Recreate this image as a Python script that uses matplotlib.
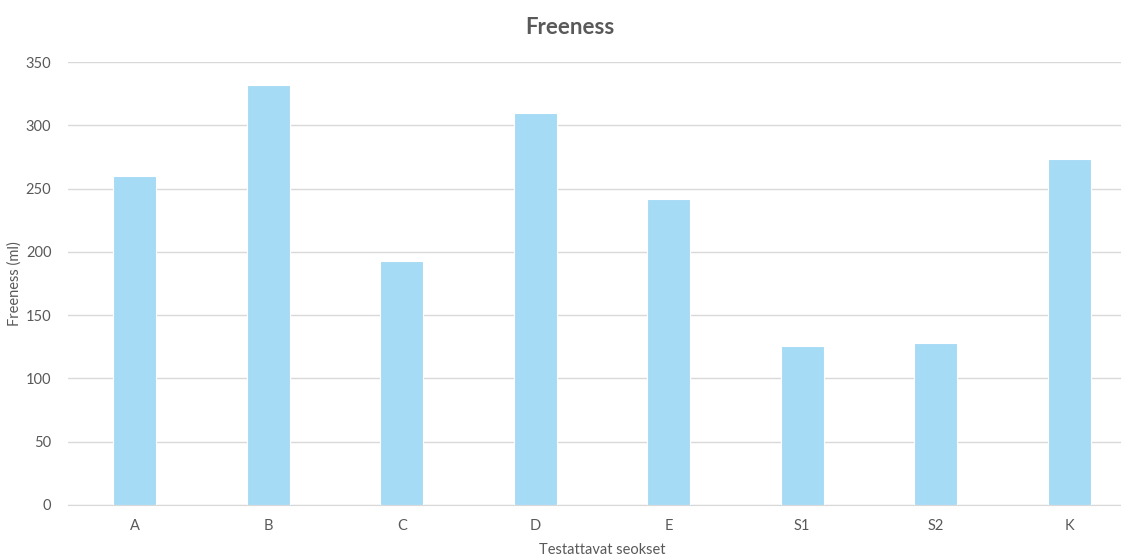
import matplotlib.pyplot as plt

# Freeness per tested mixture
categories = ['A', 'B', 'C', 'D', 'E', 'S1', 'S2', 'K']
freeness = [260, 332, 193, 310, 242, 126, 128, 273]
y_ticks = [0, 50, 100, 150, 200, 250, 300, 350]

plt.rcParams['font.family'] = ['Lato', 'DejaVu Sans']
text_color = '#595959'

fig = plt.figure(figsize=(11.21, 5.57), dpi=100)
ax = fig.add_axes([68 / 1121, 52 / 557, 1068 / 1121, 443 / 557])

x = range(len(categories))
ax.bar(x, freeness, width=0.32, color='#A6DBF5', edgecolor='white', linewidth=0.8, zorder=3)

ax.set_xlim(-0.5, len(categories) - 0.5)
ax.set_ylim(0, 350)
ax.set_yticks(y_ticks)
ax.set_xticks(list(x))
ax.set_xticklabels(categories)
ax.yaxis.grid(True, color='#D9D9D9', linewidth=1, zorder=0)
ax.tick_params(axis='both', length=0, colors=text_color, labelsize=10.5)
ax.tick_params(axis='x', pad=10)
ax.tick_params(axis='y', pad=12)
for side in ['top', 'right', 'left']:
    ax.spines[side].set_visible(False)
ax.spines['bottom'].set_color('#D9D9D9')

ax.set_xlabel('Testattavat seokset', color=text_color, fontsize=10.5, labelpad=7)
ax.set_ylabel('Freeness (ml)', color=text_color, fontsize=10.5, labelpad=3)
fig.text(570 / 1121, 1 - 27 / 557, 'Freeness', ha='center', va='center',
         fontsize=16, fontweight='bold', color=text_color)

fig.savefig('out.png', dpi=100)
